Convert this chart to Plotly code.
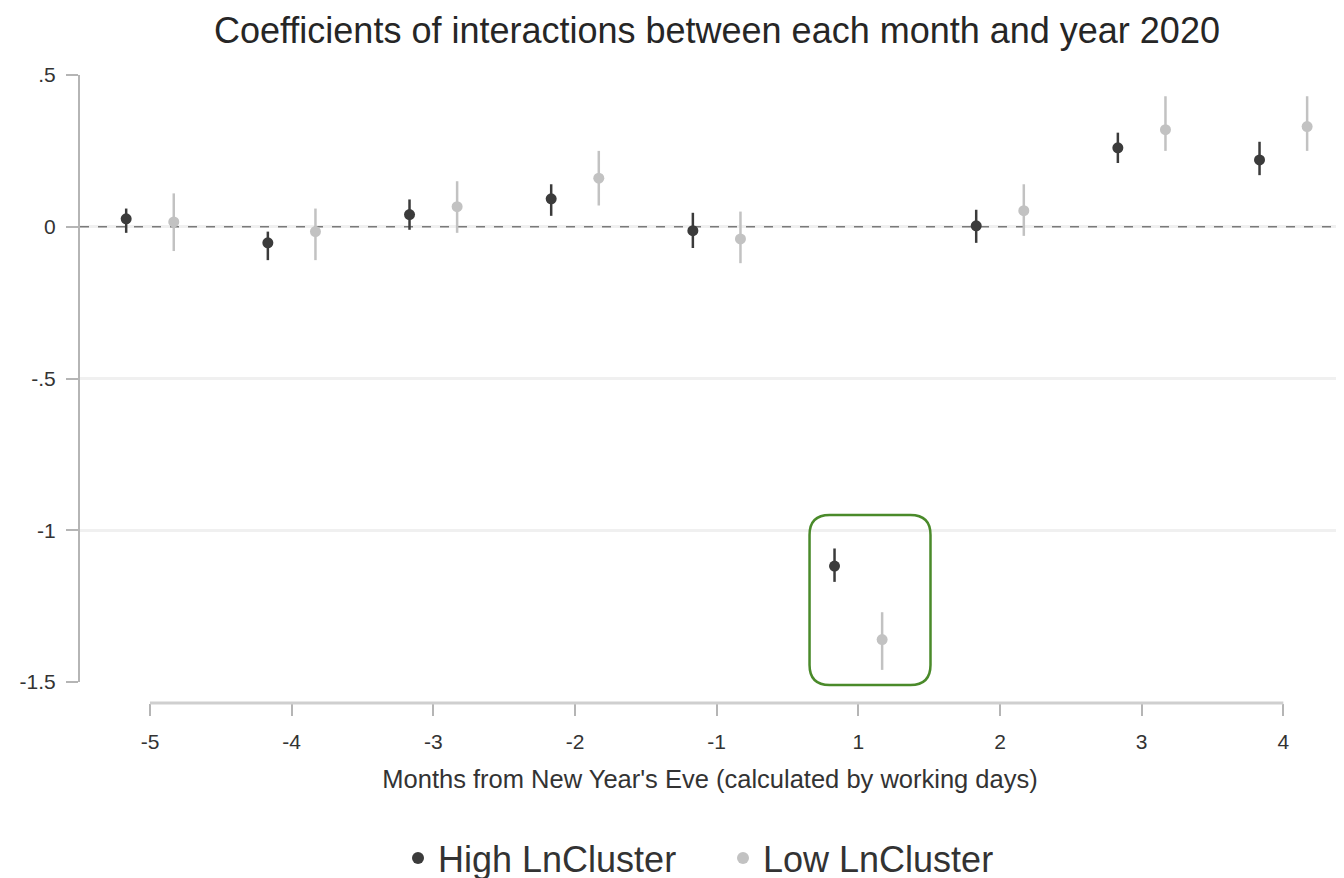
import numpy as np
import plotly.graph_objects as go

months = ["-5", "-4", "-3", "-2", "-1", "1", "2", "3", "4"]

high_coef = [0.026, -0.053, 0.040, 0.092, -0.013, -1.118, 0.003, 0.260, 0.220]
high_lo = [-0.020, -0.110, -0.010, 0.036, -0.070, -1.170, -0.053, 0.210, 0.170]
high_hi = [0.060, -0.016, 0.090, 0.140, 0.046, -1.060, 0.056, 0.310, 0.280]

low_coef = [0.016, -0.016, 0.066, 0.160, -0.040, -1.360, 0.053, 0.320, 0.330]
low_lo = [-0.080, -0.110, -0.020, 0.070, -0.120, -1.460, -0.030, 0.250, 0.250]
low_hi = [0.110, 0.060, 0.150, 0.250, 0.050, -1.270, 0.140, 0.430, 0.430]

y_ticks = [0.5, 0, -0.5, -1, -1.5]
y_tick_text = [".5", "0", "-.5", "-1", "-1.5"]

FONT = "Liberation Sans, Arial, Helvetica, sans-serif"
HIGH_COLOR = "#3b3b3b"
LOW_COLOR = "#c2c2c2"

X_RANGE = [-0.494, 8.40]

idx = np.arange(len(months))
offset = 0.168

high = np.array(high_coef)
low = np.array(low_coef)

fig = go.Figure()

fig.add_trace(go.Scatter(
    x=idx - offset, y=high, mode="markers", name="High LnCluster",
    marker=dict(color=HIGH_COLOR, size=11, symbol="circle"),
    error_y=dict(type="data", symmetric=False,
                 array=np.array(high_hi) - high,
                 arrayminus=high - np.array(high_lo),
                 color=HIGH_COLOR, thickness=2.5, width=0),
))
fig.add_trace(go.Scatter(
    x=idx + offset, y=low, mode="markers", name="Low LnCluster",
    marker=dict(color=LOW_COLOR, size=11, symbol="circle"),
    error_y=dict(type="data", symmetric=False,
                 array=np.array(low_hi) - low,
                 arrayminus=low - np.array(low_lo),
                 color=LOW_COLOR, thickness=2.5, width=0),
))

# dashed reference line at zero
fig.add_shape(type="line", xref="x", x0=X_RANGE[0], x1=X_RANGE[1], yref="y", y0=0, y1=0,
              line=dict(color="#7a7a7a", width=1.5, dash="dash"), layer="between")

# x axis line spanning the tick range (Stata style)
fig.add_shape(type="line", xref="x", x0=0, x1=len(months) - 1, yref="paper", y0=0, y1=0,
              line=dict(color="#cfcfcf", width=3))

# highlight box (rounded rectangle) around month 1, in paper coordinates
x0b, x1b, y0b, y1b = 0.579, 0.675, 0.0287, 0.2994
rx, ry = 0.0159, 0.0318
path = (f"M {x0b+rx},{y1b} L {x1b-rx},{y1b} Q {x1b},{y1b} {x1b},{y1b-ry} "
        f"L {x1b},{y0b+ry} Q {x1b},{y0b} {x1b-rx},{y0b} "
        f"L {x0b+rx},{y0b} Q {x0b},{y0b} {x0b},{y0b+ry} "
        f"L {x0b},{y1b-ry} Q {x0b},{y1b} {x0b+rx},{y1b} Z")
fig.add_shape(type="path", path=path, xref="paper", yref="paper",
              line=dict(color="#4a8a2a", width=2.5))

fig.update_layout(
    width=1344, height=878,
    paper_bgcolor="white", plot_bgcolor="white",
    margin=dict(l=72, r=12, t=67, b=183),
    font=dict(family=FONT, color="#333333"),
    title=dict(text="Coefficients of interactions between each month and year 2020",
               x=0.5275, xanchor="center", y=0.975, yanchor="middle",
               font=dict(size=36, color="#262626", family=FONT)),
    showlegend=True,
    legend=dict(orientation="h", x=0.532, xanchor="center", xref="container",
                y=0.0319, yanchor="middle", yref="container",
                font=dict(size=36, color="#333333"), itemsizing="constant",
                entrywidth=280, bgcolor="rgba(0,0,0,0)"),
    xaxis=dict(range=X_RANGE, tickmode="array", tickvals=idx.tolist(),
               ticktext=months, showgrid=False, zeroline=False, showline=False,
               ticks="outside", ticklen=12, tickwidth=1.5, tickcolor="#b5b5b5",
               anchor="free", position=0, ticklabelstandoff=8, automargin=False,
               tickfont=dict(size=21, color="#333333"),
               title=dict(text="Months from New Year's Eve (calculated by working days)",
                          font=dict(size=25.5, color="#333333"), standoff=17)),
    yaxis=dict(range=[-1.5, 0.5], domain=[0.0334, 1], tickmode="array",
               tickvals=y_ticks, ticktext=y_tick_text, automargin=False,
               showgrid=True, gridcolor="#f0f0f0", gridwidth=3,
               zeroline=False, showline=True, linecolor="#b5b5b5", linewidth=2,
               ticks="outside", ticklen=12, tickwidth=1.5, tickcolor="#b5b5b5",
               ticklabelstandoff=6,
               tickfont=dict(size=21, color="#333333")),
)

fig.write_html("out.html")
